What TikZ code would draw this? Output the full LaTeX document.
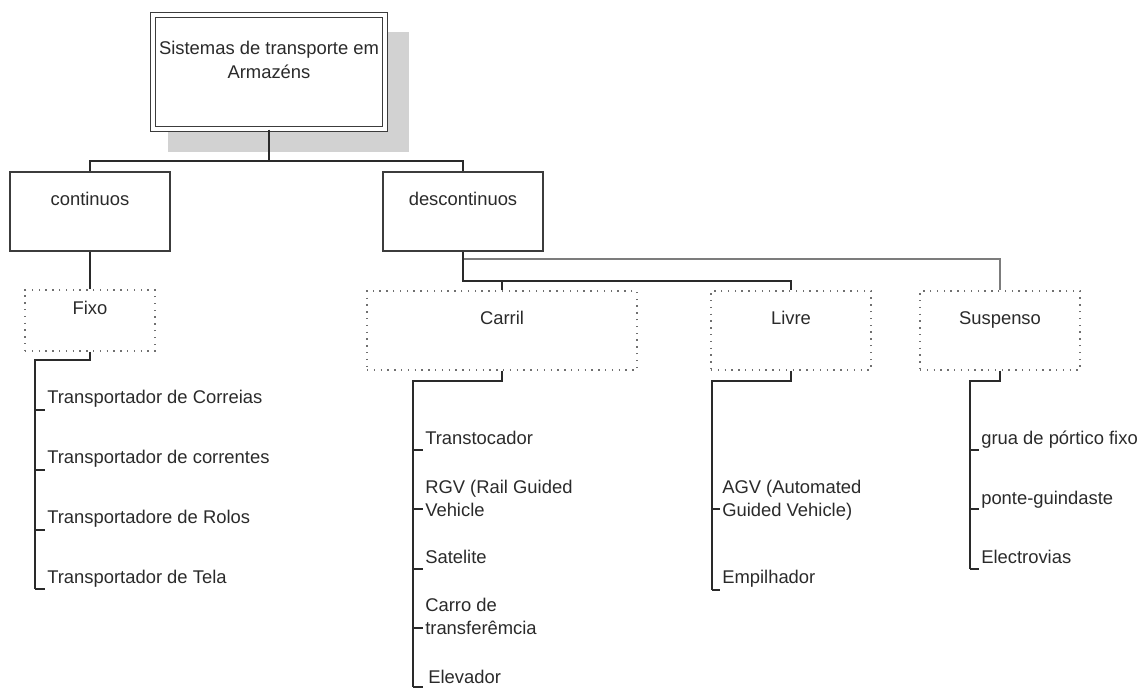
\documentclass[tikz,border=0pt]{standalone}
\usepackage{fontspec}
\setmainfont{Liberation Sans}
\definecolor{ink}{HTML}{2A2A2A}
\definecolor{edge}{HTML}{3C3C3C}
\definecolor{dotc}{HTML}{707070}
\definecolor{shadowgray}{HTML}{D2D2D2}
\definecolor{busgray}{HTML}{7C7C7C}

\begin{document}
\begin{tikzpicture}[x=0.75pt,y=-0.75pt,
  every node/.style={font=\fontsize{13.8}{17}\selectfont, text=ink},
  rootbox/.style={draw=edge, double=white, double distance=2.3pt, line width=1.1pt,
    fill=white, minimum width=174pt, minimum height=85.5pt},
  catbox/.style={draw=edge, line width=1.1pt, fill=white, minimum width=120pt,
    minimum height=59.25pt, text height=10pt, text depth=18.8pt, inner sep=0pt},
  groupbox/.style={draw=dotc, line width=1.1pt, dash pattern=on 1.1pt off 4pt,
    minimum height=59.25pt, text height=10pt, text depth=18.8pt, inner sep=0pt},
  item/.style={anchor=north west, align=left, inner xsep=1.5pt, inner ysep=0pt},
  conn/.style={draw=ink, line width=1.3pt},
  bus/.style={draw=busgray, line width=2pt},
  tick/.style={draw=ink, line width=1.1pt},
]
\useasboundingbox (0,0) rectangle (1143,689);

% root box with its offset shadow
\fill[shadowgray] (168,32) rectangle (409,152);
\node[rootbox] (root) at (269,72) {};
\node[align=center, font=\fontsize{13.8}{18}\selectfont] (roottext) at (269,60)
  {Sistemas de transporte em\\Armazéns};

% first level
\node[catbox] (cont) at (90,211.5) {continuos};
\node[catbox] (desc) at (463,211.5) {descontinuos};
\coordinate (rbus) at (269,161);
\draw[conn] (root.south) -- (rbus) -| (cont.north);
\draw[conn] (rbus) -| (desc.north);

% second level
\node[groupbox, minimum width=97.5pt, minimum height=45.75pt] (fixo) at (90,320.5) {Fixo};
\node[groupbox, minimum width=202.5pt] (carril) at (502,330.5) {Carril};
\node[groupbox, minimum width=120pt] (livre) at (791,330.5) {Livre};
\node[groupbox, minimum width=120pt] (susp) at (1000,330.5) {Suspenso};

\draw[conn] (cont.south) -- (fixo.north);
\coordinate (lbus) at (463,281);
\coordinate (ubus) at (463,259);
\draw[bus] (ubus) -| (susp.north);
\draw[conn] (desc.south) -- (lbus) -| (livre.north);
\draw[conn] (carril.north) -- (carril.north |- lbus);

% Fixo list
\node[item] (f1) at (45,387.7) {\strut Transportador de Correias};
\node[item] (f2) at (45,447.7) {\strut Transportador de correntes};
\node[item] (f3) at (45,507.7) {\strut Transportadore de Rolos};
\node[item] (f4) at (45,567.7) {\strut Transportador de Tela};
\coordinate (fk) at (35,360);
\coordinate (ft1) at (35,410);
\coordinate (ft2) at (35,470);
\coordinate (ft3) at (35,530);
\coordinate (ft4) at (35,589);
\draw[conn] (fixo.south) |- (fk) -- (ft4);
\draw[tick] (ft1) -- (ft1 -| f1.west);
\draw[tick] (ft2) -- (ft2 -| f2.west);
\draw[tick] (ft3) -- (ft3 -| f3.west);
\draw[tick] (ft4) -- (ft4 -| f4.west);

% Carril list
\node[item] (c1) at (423,428.7) {\strut Transtocador};
\node[item] (c2) at (423,477.7) {\strut RGV (Rail Guided\\Vehicle};
\node[item] (c3) at (423,547.7) {\strut Satelite};
\node[item] (c4) at (423,595.7) {\strut Carro de\\transferêmcia};
\node[item] (c5) at (423,667.7) {\strut\hspace{2.3pt}Elevador};
\coordinate (ck) at (413,381);
\coordinate (ct1) at (413,450);
\coordinate (ct2) at (413,509);
\coordinate (ct3) at (413,569);
\coordinate (ct4) at (413,628);
\coordinate (ct5) at (413,687);
\draw[conn] (carril.south) |- (ck) -- (ct5);
\draw[tick] (ct1) -- (ct1 -| c1.west);
\draw[tick] (ct2) -- (ct2 -| c2.west);
\draw[tick] (ct3) -- (ct3 -| c3.west);
\draw[tick] (ct4) -- (ct4 -| c4.west);
\draw[tick] (ct5) -- (ct5 -| c5.west);

% Livre list
\node[item] (l1) at (720,477.7) {\strut AGV (Automated\\Guided Vehicle)};
\node[item] (l2) at (720,567.7) {\strut Empilhador};
\coordinate (lk) at (712,381);
\coordinate (lt1) at (712,509);
\coordinate (lt2) at (712,590);
\draw[conn] (livre.south) |- (lk) -- (lt2);
\draw[tick] (lt1) -- (lt1 -| l1.west);
\draw[tick] (lt2) -- (lt2 -| l2.west);

% Suspenso list
\node[item] (s1) at (979,428.7) {\strut grua de pórtico fixo};
\node[item] (s2) at (979,488.7) {\strut ponte-guindaste};
\node[item] (s3) at (979,547.7) {\strut Electrovias};
\coordinate (sk) at (970,381);
\coordinate (st1) at (970,450);
\coordinate (st2) at (970,509);
\coordinate (st3) at (970,569);
\draw[conn] (susp.south) |- (sk) -- (st3);
\draw[tick] (st1) -- (st1 -| s1.west);
\draw[tick] (st2) -- (st2 -| s2.west);
\draw[tick] (st3) -- (st3 -| s3.west);
\end{tikzpicture}
\end{document}
